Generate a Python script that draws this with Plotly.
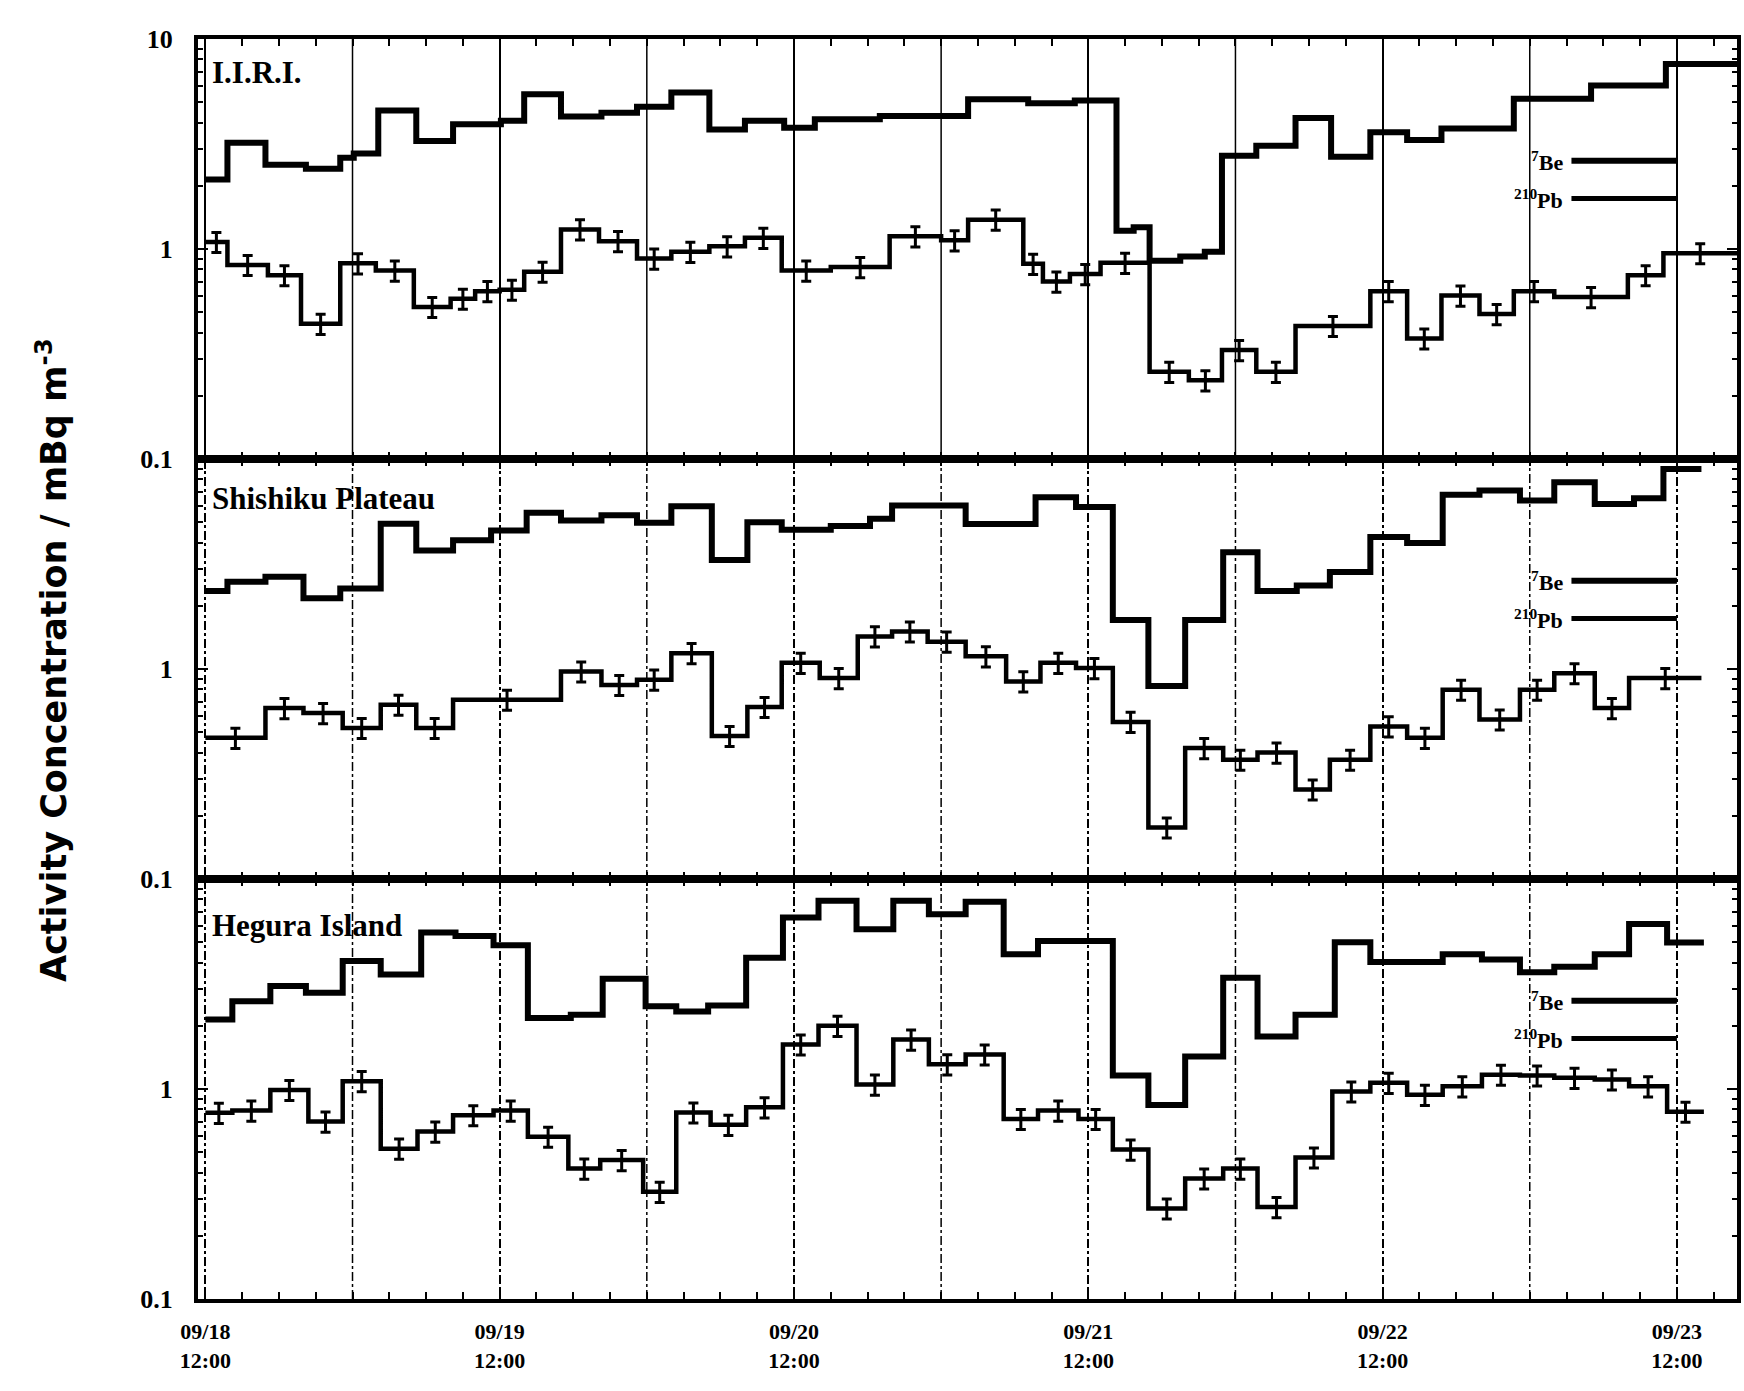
import plotly.graph_objects as go
from plotly.subplots import make_subplots

# ---------------- data (hours after 09/18 12:00) ----------------
site_names = ["I.I.R.I.", "Shishiku Plateau", "Hegura Island"]

iiri_be_t = [0, 1.8, 4.9, 8.2, 11.0, 12.1, 14.1, 17.2, 20.2, 24.1, 26.0, 29.0, 32.3, 35.2, 38.0,
             41.1, 44.0, 47.2, 49.7, 55.0, 62.2, 67.1, 70.9, 74.3, 75.7, 77.0, 79.5, 81.5, 82.9,
             85.7, 88.9, 91.8, 95.0, 98.0, 100.8, 106.7, 113.0, 119.1]
iiri_be_v = [2.14, 3.21, 2.52, 2.41, 2.72, 2.85, 4.57, 3.27, 3.93, 4.08, 5.46, 4.27, 4.46, 4.76, 5.56,
             3.71, 4.08, 3.78, 4.15, 4.3, 5.17, 4.95, 5.1, 1.22, 1.27, 0.88, 0.92, 0.97, 2.78,
             3.1, 4.2, 2.75, 3.6, 3.3, 3.75, 5.2, 6.0, 7.6]
iiri_be_end = 124.9

iiri_pb_t = [0, 1.8, 5.1, 7.8, 11.0, 13.9, 17.0, 20.0, 22.0, 24.0, 26.0, 29.0, 32.1, 35.2, 38.0,
             41.1, 44.0, 47.0, 51.0, 55.8, 60.0, 62.2, 66.7, 68.3, 70.5, 73.0, 77.0, 80.2, 82.9,
             85.7, 88.9, 95.0, 98.0, 100.8, 103.9, 106.7, 110.0, 116.0, 118.9]
iiri_pb_v = [1.08, 0.84, 0.75, 0.44, 0.855, 0.79, 0.53, 0.58, 0.63, 0.64, 0.78, 1.24, 1.09, 0.9, 0.97,
             1.03, 1.13, 0.79, 0.82, 1.15, 1.1, 1.38, 0.85, 0.70, 0.76, 0.86, 0.26, 0.237, 0.33,
             0.26, 0.43, 0.63, 0.375, 0.60, 0.49, 0.63, 0.59, 0.75, 0.955]
iiri_pb_end = 124.9

shis_be_t = [0, 1.8, 4.9, 8.0, 11.0, 14.3, 17.2, 20.2, 23.3, 26.2, 29.0, 32.3, 35.2, 38.0, 41.3,
             44.2, 47.0, 51.0, 54.2, 56.0, 62.0, 67.7, 71.0, 74.0, 76.9, 79.9, 83.0, 85.8, 89.0,
             91.7, 95.0, 98.0, 100.9, 103.9, 107.2, 110.0, 113.3, 116.5, 118.9]
shis_be_v = [2.35, 2.6, 2.75, 2.17, 2.42, 4.92, 3.67, 4.1, 4.57, 5.55, 5.1, 5.4, 4.97, 5.96, 3.3,
             5.0, 4.6, 4.8, 5.19, 6.0, 4.9, 6.58, 5.9, 1.71, 0.83, 1.71, 3.6, 2.35, 2.5,
             2.9, 4.25, 3.98, 6.75, 7.08, 6.34, 7.74, 6.1, 6.5, 8.97]
shis_be_end = 122.0

shis_pb_t = [0, 4.9, 8.0, 11.2, 14.3, 17.2, 20.2, 29.0, 32.3, 35.2, 38.0, 41.3, 44.2, 47.0, 50.1,
             53.2, 56.0, 58.9, 62.0, 65.3, 68.1, 71.0, 74.0, 76.9, 79.9, 83.0, 85.8, 88.9, 91.7,
             95.0, 98.0, 100.9, 103.9, 107.2, 110.0, 113.3, 116.1]
shis_pb_v = [0.47, 0.652, 0.617, 0.524, 0.676, 0.524, 0.714, 0.973, 0.84, 0.89, 1.19, 0.48, 0.66, 1.07, 0.906,
             1.43, 1.51, 1.35, 1.15, 0.873, 1.07, 1.01, 0.56, 0.176, 0.42, 0.37, 0.40, 0.267, 0.37,
             0.533, 0.47, 0.797, 0.575, 0.797, 0.955, 0.652, 0.906]
shis_pb_end = 122.0

heg_be_t = [0, 2.2, 5.3, 8.2, 11.2, 14.3, 17.6, 20.4, 23.5, 26.3, 29.8, 32.4, 35.9, 38.4, 41.0,
            44.1, 47.1, 50.0, 53.1, 56.1, 59.0, 62.0, 65.1, 67.9, 74.0, 76.9, 79.9, 83.0, 85.8,
            88.9, 92.1, 95.0, 100.9, 104.1, 107.2, 110.0, 113.3, 116.1, 119.2]
heg_be_v = [2.14, 2.62, 3.09, 2.87, 4.07, 3.51, 5.56, 5.36, 4.83, 2.18, 2.26, 3.35, 2.48, 2.34, 2.5,
            4.22, 6.56, 7.87, 5.77, 7.87, 6.8, 7.8, 4.38, 5.07, 1.16, 0.84, 1.43, 3.39, 1.78,
            2.26, 5.0, 4.03, 4.38, 4.14, 3.6, 3.82, 4.38, 6.1, 4.98]
heg_be_end = 122.2

heg_pb_t = [0, 2.2, 5.3, 8.4, 11.2, 14.3, 17.3, 20.2, 23.5, 26.3, 29.6, 32.2, 35.7, 38.4, 41.2,
            44.1, 47.1, 50.0, 53.1, 56.1, 59.0, 62.0, 65.1, 67.9, 71.2, 74.0, 76.9, 79.9, 83.0,
            85.8, 88.9, 91.9, 95.0, 98.0, 100.9, 104.1, 107.2, 110.0, 113.3, 116.1, 119.2]
heg_pb_v = [0.77, 0.79, 0.99, 0.70, 1.09, 0.52, 0.627, 0.75, 0.79, 0.593, 0.418, 0.459, 0.324, 0.773, 0.675,
            0.818, 1.63, 2.0, 1.05, 1.72, 1.31, 1.46, 0.72, 0.79, 0.72, 0.515, 0.27, 0.375, 0.418,
            0.274, 0.472, 0.973, 1.07, 0.938, 1.03, 1.17, 1.16, 1.13, 1.11, 1.03, 0.78]
heg_pb_end = 122.2

tick_hours = [0, 24, 48, 72, 96, 120]
tick_labels = ["09/18<br>12:00", "09/19<br>12:00", "09/20<br>12:00",
               "09/21<br>12:00", "09/22<br>12:00", "09/23<br>12:00"]
half_day_hours = [12, 36, 60, 84, 108]
y_tickvals = [[0.1, 1, 10], [0.1, 1], [0.1, 1]]
y_ticktext = [["0.1", "1", "10"], ["0.1", "1"], ["0.1", "1"]]

panels = [
    (iiri_be_t, iiri_be_v, iiri_be_end, iiri_pb_t, iiri_pb_v, iiri_pb_end),
    (shis_be_t, shis_be_v, shis_be_end, shis_pb_t, shis_pb_v, shis_pb_end),
    (heg_be_t, heg_be_v, heg_be_end, heg_pb_t, heg_pb_v, heg_pb_end),
]
label_y = [0.92, 0.905, 0.89]
grid_dash = ["solid", "dashdot", "dashdot"]

# ---------------- figure ----------------
fig = make_subplots(rows=3, cols=1, shared_xaxes=True, vertical_spacing=0)

SERIF = "Liberation Serif"

for i, (bt, bv, bend, pt, pv, pend) in enumerate(panels):
    row = i + 1
    xref = "x" if row == 1 else f"x{row}"
    yref = "y" if row == 1 else f"y{row}"
    # half-day grid lines (between the labelled days)
    for h in half_day_hours:
        fig.add_shape(type="line", x0=h, x1=h, y0=0, y1=1, xref=xref, yref=f"{yref} domain",
                      layer="below", line=dict(color="black", width=1.5, dash=grid_dash[i]))
    # 7Be step line
    fig.add_trace(go.Scatter(x=bt + [bend], y=bv + [bv[-1]], mode="lines",
                             line=dict(color="black", width=6, shape="hv"),
                             showlegend=False, hoverinfo="skip"), row=row, col=1)
    # 210Pb step line
    fig.add_trace(go.Scatter(x=pt + [pend], y=pv + [pv[-1]], mode="lines",
                             line=dict(color="black", width=4.5, shape="hv"),
                             showlegend=False, hoverinfo="skip"), row=row, col=1)
    # 210Pb error bars at the middle of each sampling interval
    edges = pt + [pend]
    mids = [(edges[k] + edges[k + 1]) / 2 for k in range(len(pt))]
    fig.add_trace(go.Scatter(x=mids, y=pv, mode="markers",
                             marker=dict(size=1, color="black"),
                             error_y=dict(type="percent", value=11, color="black",
                                          thickness=3, width=5),
                             showlegend=False, hoverinfo="skip"), row=row, col=1)

    # site label
    fig.add_annotation(text=site_names[i], x=0.008, y=label_y[i],
                       xref=f"{xref} domain", yref=f"{yref} domain",
                       xanchor="left", yanchor="middle", showarrow=False,
                       font=dict(family=SERIF, size=31, color="black", weight="bold"))
    # in-panel legend
    for lab, ly, lw in (("<sup>7</sup>Be", 0.71, 6), ("<sup>210</sup>Pb", 0.62, 5)):
        fig.add_annotation(text=lab, x=110.9, y=ly, xref=xref, yref=f"{yref} domain",
                           xanchor="right", yanchor="middle", showarrow=False,
                           font=dict(family=SERIF, size=22, color="black", weight="bold"))
        fig.add_shape(type="line", x0=111.4, x1=120, y0=ly, y1=ly,
                      xref=xref, yref=f"{yref} domain",
                      line=dict(color="black", width=lw))

minor_x = [h for h in range(0, 126, 3)]
minor_y = [k * 10 ** e for e in (-1, 0) for k in range(2, 10)]

for row in (1, 2, 3):
    fig.update_xaxes(row=row, col=1,
                     range=[-0.6, 124.9], tickmode="array", tickvals=tick_hours,
                     ticktext=tick_labels, showticklabels=(row == 3),
                     ticks="inside", ticklen=10, tickwidth=2, tickcolor="black",
                     showgrid=True, gridcolor="black", gridwidth=1.5,
                     griddash=grid_dash[row - 1],
                     showline=True, linecolor="black", linewidth=4, mirror="ticks",
                     zeroline=False,
                     minor=dict(tickmode="array", tickvals=minor_x, ticks="inside",
                                ticklen=7, tickwidth=2, tickcolor="black", showgrid=False),
                     tickfont=dict(family=SERIF, size=22, color="black", weight="bold"),
                     ticklabelstandoff=10)
    fig.update_yaxes(row=row, col=1,
                     type="log", range=[-1, 1], tickmode="array",
                     tickvals=y_tickvals[row - 1], ticktext=y_ticktext[row - 1],
                     ticks="inside", ticklen=10, tickwidth=2, tickcolor="black",
                     showgrid=False, showline=True, linecolor="black", linewidth=4,
                     mirror="ticks", zeroline=False,
                     minor=dict(tickmode="array", tickvals=minor_y, ticks="inside",
                                ticklen=5, tickwidth=2, tickcolor="black", showgrid=False),
                     tickfont=dict(family=SERIF, size=26, color="black", weight="bold"),
                     ticklabelstandoff=16)

fig.add_annotation(text="Activity Concentration / mBq m<sup>-3</sup>",
                   x=-0.095, y=0.507, xref="paper", yref="paper", textangle=-90,
                   xanchor="center", yanchor="middle", showarrow=False,
                   font=dict(family="DejaVu Sans", size=35, color="black", weight="bold"))

fig.update_layout(width=1744, height=1391,
                  margin=dict(l=198, r=3, t=39, b=92),
                  plot_bgcolor="white", paper_bgcolor="white",
                  showlegend=False)

fig.write_html("out.html", config={"displayModeBar": False},
               post_script="document.body.style.margin='0';document.body.style.overflow='hidden';")
